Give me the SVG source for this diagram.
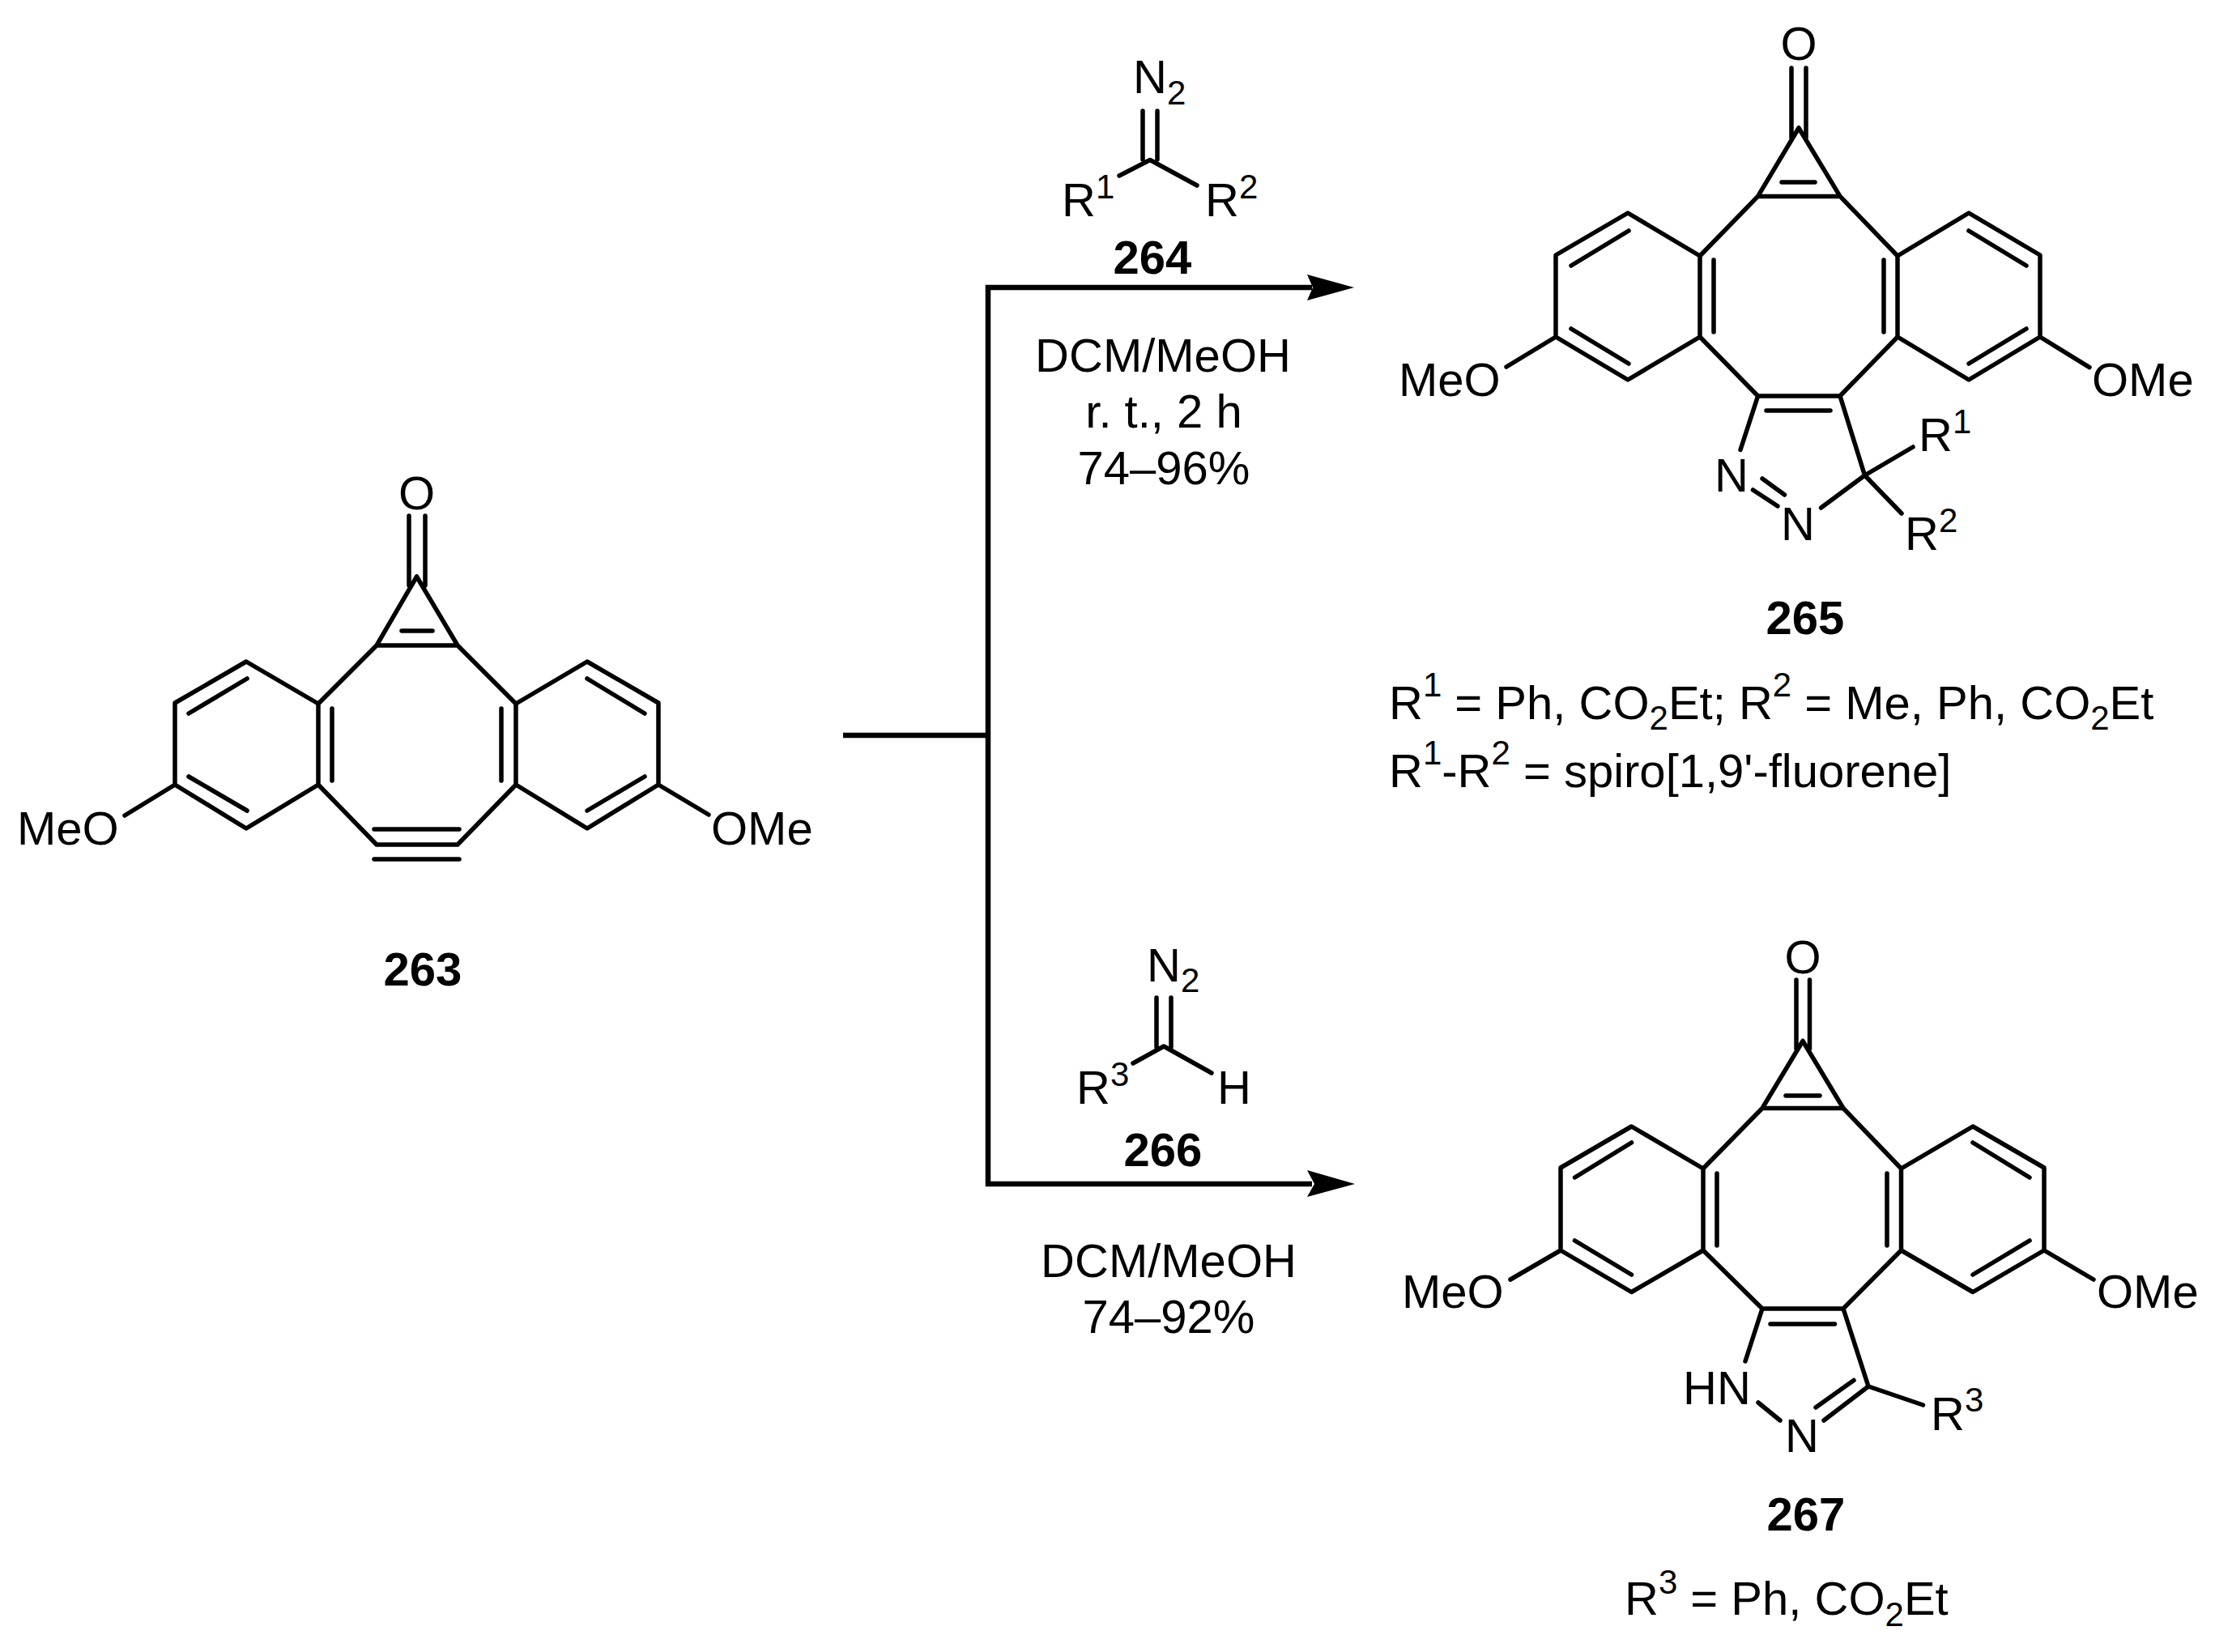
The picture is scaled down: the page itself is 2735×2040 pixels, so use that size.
<svg xmlns="http://www.w3.org/2000/svg" width="2735" height="2040" viewBox="0 0 2735 2040">
<style>
text{font-family:"Liberation Sans",Arial,sans-serif;font-size:58px;fill:#000}
.l{font-weight:bold;text-anchor:middle}
.c{text-anchor:middle}
.s{font-size:42px}
.b{fill:none;stroke:#000;stroke-width:5.5;stroke-linecap:round;stroke-linejoin:round}
.a{fill:none;stroke:#000;stroke-width:6.5;stroke-linejoin:miter}
</style>
<rect width="2735" height="2040" fill="#fff"/>
<g id="connectors">
<path class="a" d="M1041 908H1220M1620 355H1220V1462H1620"/>
<path d="M1672 355L1614 339L1621 355L1614 371Z"/>
<path d="M1673 1462L1614 1445L1623 1462L1614 1478Z"/>
</g>
<g id="n263">
<path class="b" d="M505 637V723M525 637V723M514.500 712L465 797H565L514.500 712M465 797L393 869V969L465 1043H565L637 969V869L565 797M496 779H534M393 869L304 817L216 868V969L304 1023L393 969M233 881L305 838M233 959L305 1001M410 875V964M637 869L725 817L813 868V969L725 1023L637 969M796 881L725 838M796 959L725 1001M619 875V964M462 1024H567M462 1061H567M216 969L154 1007M813 969L875 1006"/>
<text x="21" y="1043">MeO</text><text x="878" y="1043">OMe</text><text x="514.500" y="629" class="c">O</text>
<text x="522" y="1217" class="l">263</text>
</g>
<g id="n264">
<path class="b" d="M1411 137V197M1429 137V197M1382 217L1420 197.500L1478 229"/>
<text x="1399" y="115">N<tspan class="s" dy="14">2</tspan></text>
<text x="1311" y="267">R<tspan class="s" dy="-22">1</tspan></text>
<text x="1488" y="267">R<tspan class="s" dy="-22">2</tspan></text>
<text x="1423" y="338" class="l">264</text>
<text x="1436" y="459" class="c">DCM/MeOH</text>
<text x="1437" y="528" class="c">r. t., 2 h</text>
<text x="1437" y="598" class="c">74–96%</text>
</g>
<g id="n265">
<path class="b" d="M2212 84V170M2230 84V170M2221 158L2170.600 242.400H2272L2221 158M2200 225H2241M2170.600 242.400L2099 316V416L2170.600 489H2272L2343 416V316L2272 242.400M2099 316L2010 263L1921 315V416L2010 469L2099 416M1940 328L2011 285M1940 406L2011 449M2116 321V410M2343 316L2431 263L2519 315V416L2431 469L2343 416M2502 328L2431 285M2502 406L2431 449M2326 321V410M2181 507H2260M2170.600 489L2149 555.500M2272 489L2302.500 587M2362 552L2302.500 587L2348 634M2302.500 587L2248.600 627M2164.500 605L2195 625M2176 591L2203.500 611M1921 416L1860 453M2519 416L2580 453.600"/>
<text x="2221" y="74" class="c">O</text>
<text x="2117" y="607">N</text><text x="2199" y="667">N</text>
<text x="2369" y="556.500">R<tspan class="s" dy="-22">1</tspan></text>
<text x="2352" y="678.600">R<tspan class="s" dy="-22">2</tspan></text>
<text x="1727" y="489">MeO</text><text x="2583" y="489">OMe</text>
<text x="2229" y="783" class="l">265</text>
<text x="1715" y="888">R<tspan class="s" dy="-28">1</tspan><tspan dy="28"> = Ph, CO</tspan><tspan class="s" dy="13">2</tspan><tspan dy="-13">Et; R</tspan><tspan class="s" dy="-28">2</tspan><tspan dy="28"> = Me, Ph, CO</tspan><tspan class="s" dy="13">2</tspan><tspan dy="-13">Et</tspan></text>
<text x="1715" y="972">R<tspan class="s" dy="-28">1</tspan><tspan dy="28">-R</tspan><tspan class="s" dy="-28">2</tspan><tspan dy="28"> = spiro[1,9'-fluorene]</tspan></text>
</g>
<g id="n266">
<path class="b" d="M1428 1232V1293M1446 1232V1293M1399 1313L1437 1292L1496 1325"/>
<text x="1416" y="1212">N<tspan class="s" dy="13">2</tspan></text>
<text x="1329" y="1363">R<tspan class="s" dy="-22">3</tspan></text>
<text x="1503" y="1363">H</text>
<text x="1436" y="1440" class="l">266</text>
<text x="1443" y="1577" class="c">DCM/MeOH</text>
<text x="1443" y="1646" class="c">74–92%</text>
</g>
<g id="n267">
<path class="b" d="M2218 1210V1295M2234.500 1210V1295M2226 1285.500L2176 1368.500H2276L2226 1285.500M2205 1353H2247M2176 1368.500L2103 1443V1544L2176 1616H2276L2347.500 1544V1443L2276 1368.500M2103 1443L2014.500 1391L1927 1442V1544L2014.500 1595.500L2103 1544M1944.500 1454L2014.500 1411M1944.500 1532L2014.500 1574M2120 1449V1538M2347.500 1443L2436 1391L2524 1442V1544L2436 1595.500L2347.500 1544M2506 1454L2436 1411M2506 1532L2436 1574M2330 1449V1538M2186 1635H2265.500M2176 1616L2155 1681M2276 1616L2307 1712L2374.500 1735M2307 1712L2252 1754M2289 1704.500L2242 1738M2171 1732L2198 1754M1927 1544L1865 1580M2524 1544L2585 1580"/>
<text x="2226" y="1202" class="c">O</text>
<text x="2078" y="1733.600">HN</text><text x="2204" y="1793">N</text>
<text x="2384" y="1765.500">R<tspan class="s" dy="-23">3</tspan></text>
<text x="1731" y="1615">MeO</text><text x="2589" y="1615">OMe</text>
<text x="2230" y="1890" class="l">267</text>
<text x="2006" y="1993.600">R<tspan class="s" dy="-26">3</tspan><tspan dy="26"> = Ph, CO</tspan><tspan class="s" dy="14">2</tspan><tspan dy="-14">Et</tspan></text>
</g>
</svg>
